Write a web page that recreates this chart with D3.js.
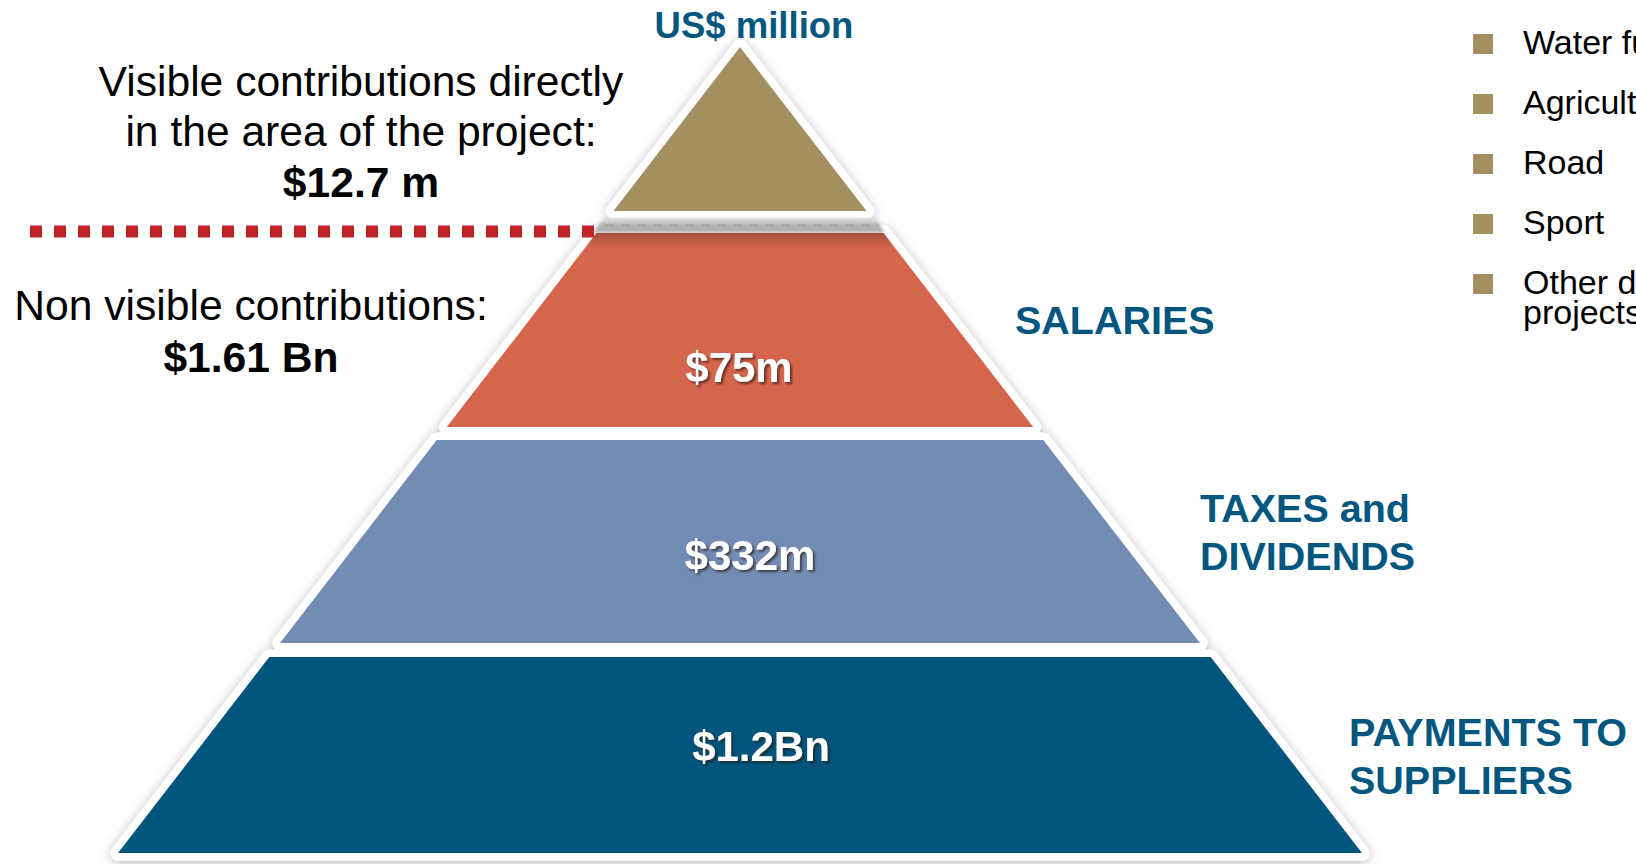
<!DOCTYPE html>
<html>
<head>
<meta charset="utf-8">
<script src="https://cdn.jsdelivr.net/npm/d3@7"></script>
<style>
  html, body { margin: 0; padding: 0; background: #fff; overflow: hidden; }
  svg { display: block; font-family: "Liberation Sans", Arial, sans-serif; }
</style>
</head>
<body>
<div class="chart"></div>
<script>
// data
const tiers = ["Visible", "SALARIES", "TAXES and DIVIDENDS", "PAYMENTS TO SUPPLIERS"]
const tierValues = ["", "$75m", "$332m", "$1.2Bn"]
const tierLabelLines = [[], ["SALARIES"], ["TAXES and", "DIVIDENDS"], ["PAYMENTS TO", "SUPPLIERS"]]
const visibleLines = ["Visible contributions directly", "in the area of the project:"]
const visibleTotal = "$12.7 m"
const nonVisibleLine = "Non visible contributions:"
const nonVisibleTotal = "$1.61 Bn"
const unitTitle = "US$ million"
const legendItems = ["Water fund", "Agriculture", "Road", "Sport", "Other development projects"]
const legendLines = [["Water fund"], ["Agriculture"], ["Road"], ["Sport"], ["Other development", "projects"]]

// layout / styles
const W = 1636, H = 864
const apex = { x: 740, y: 47 }
const baseY = 853
const baseHalf = 622
const tierFrac = [[0, 0.2035], [0.2308, 0.4715], [0.4876, 0.7395], [0.7568, 1]]
const tierColors = ["#a38f5f", "#d5654c", "#728cb4", "#00557f"]
const navyText = "#03577f"
const valuePos = [null, [739, 382], [750, 570], [761, 761]]
const labelPos = [null, [1015, 334], [1200, 522], [1349, 746]]

const svg = d3.select('.chart')
  .append('svg')
  .attr('width', W)
  .attr('height', H)

const defs = svg.append('defs')
const shadow = defs.append('filter').attr('id', 'pyrShadow')
  .attr('x', '-20%').attr('y', '-20%').attr('width', '140%').attr('height', '140%')
shadow.append('feDropShadow')
  .attr('dx', 0).attr('dy', 2).attr('stdDeviation', 6)
  .attr('flood-color', '#000').attr('flood-opacity', 0.28)

const txtShadow = defs.append('filter').attr('id', 'txtShadow')
  .attr('x', '-20%').attr('y', '-30%').attr('width', '140%').attr('height', '160%')
txtShadow.append('feDropShadow')
  .attr('dx', 2).attr('dy', 2).attr('stdDeviation', 1)
  .attr('flood-color', '#2a1a10').attr('flood-opacity', 0.7)

const blur = defs.append('filter').attr('id', 'soft')
blur.append('feGaussianBlur').attr('stdDeviation', 1.5)

const bandGrad = defs.append('linearGradient').attr('id', 'band')
  .attr('x1', 0).attr('y1', 0).attr('x2', 0).attr('y2', 1)
bandGrad.append('stop').attr('offset', '0%').attr('stop-color', '#e4e4e4')
bandGrad.append('stop').attr('offset', '60%').attr('stop-color', '#a9a9a9')
bandGrad.append('stop').attr('offset', '100%').attr('stop-color', '#bdbdbd')

const topShade = defs.append('linearGradient').attr('id', 'topShade')
  .attr('x1', 0).attr('y1', 0).attr('x2', 0).attr('y2', 1)
topShade.append('stop').attr('offset', '0%').attr('stop-color', '#000').attr('stop-opacity', 0.22)
topShade.append('stop').attr('offset', '100%').attr('stop-color', '#000').attr('stop-opacity', 0)

// scales
const y = d3.scaleLinear().domain([0, 1]).range([apex.y, baseY])
const half = d3.scaleLinear().domain([0, 1]).range([0, baseHalf])

const tierPath = (f) => {
  const [a, b] = f
  const pts = a === 0
    ? [[apex.x, y(0)], [apex.x + half(b), y(b)], [apex.x - half(b), y(b)]]
    : [[apex.x - half(a), y(a)], [apex.x + half(a), y(a)], [apex.x + half(b), y(b)], [apex.x - half(b), y(b)]]
  return d3.line()(pts) + 'Z'
}

// white outlines with shadow
svg.append('g')
  .attr('filter', 'url(#pyrShadow)')
  .selectAll('path')
  .data(tierFrac)
  .enter()
  .append('path')
  .attr('d', tierPath)
  .attr('fill', '#fff')
  .attr('stroke', '#fff')
  .attr('stroke-width', 15)
  .attr('stroke-linejoin', 'round')

// shadow band under the top triangle
const b0 = tierFrac[0][1], a1 = tierFrac[1][0]
svg.append('path')
  .attr('d', d3.line()([
    [apex.x - half(b0) - 9, y(b0) + 7],
    [apex.x + half(b0) + 9, y(b0) + 7],
    [apex.x + half(a1) + 1, y(a1)],
    [apex.x - half(a1) - 4, y(a1)]
  ]) + 'Z')
  .attr('fill', 'url(#band)')
  .attr('filter', 'url(#soft)')

svg.append('line')
  .attr('x1', apex.x - half(b0) - 8).attr('x2', apex.x + half(b0) + 12)
  .attr('y1', (y(b0) + y(a1)) / 2 + 3).attr('y2', (y(b0) + y(a1)) / 2 + 3)
  .attr('stroke', '#b29c9c').attr('stroke-width', 1.5)
  .attr('stroke-dasharray', '9 7')

// tiers
svg.append('g')
  .selectAll('path')
  .data(tierFrac)
  .enter()
  .append('path')
  .attr('d', tierPath)
  .attr('fill', (d, i) => tierColors[i])

// darker shade on top of the salaries tier
const a1b = a1 + 0.018
svg.append('path')
  .attr('d', d3.line()([
    [apex.x - half(a1), y(a1)], [apex.x + half(a1), y(a1)],
    [apex.x + half(a1b), y(a1b)], [apex.x - half(a1b), y(a1b)]
  ]) + 'Z')
  .attr('fill', 'url(#topShade)')

// value labels
svg.append('g')
  .selectAll('text')
  .data(tierValues.map((v, i) => ({ v, i })).filter((d) => d.v))
  .enter()
  .append('text')
  .attr('x', (d) => valuePos[d.i][0])
  .attr('y', (d) => valuePos[d.i][1])
  .attr('text-anchor', 'middle')
  .attr('fill', '#fff')
  .attr('font-weight', 'bold')
  .attr('font-size', 42)
  .attr('filter', 'url(#txtShadow)')
  .text((d) => d.v)

// tier labels on the right
tierLabelLines.forEach((lines, i) => {
  if (!lines.length) return
  const t = svg.append('text')
    .attr('x', labelPos[i][0])
    .attr('y', labelPos[i][1])
    .attr('fill', navyText)
    .attr('font-weight', 'bold')
    .attr('font-size', 39.5)
  lines.forEach((l, k) => {
    t.append('tspan').attr('x', labelPos[i][0]).attr('dy', k === 0 ? 0 : 48).text(l)
  })
})

// unit title
svg.append('text')
  .attr('x', 754).attr('y', 38)
  .attr('text-anchor', 'middle')
  .attr('fill', navyText)
  .attr('font-weight', 'bold')
  .attr('font-size', 36.5)
  .text(unitTitle)

// visible contributions text
const vis = svg.append('text')
  .attr('text-anchor', 'middle')
  .attr('font-size', 42.6)
  .attr('fill', '#000')
visibleLines.forEach((l, k) => {
  vis.append('tspan').attr('x', 361).attr('y', 96 + k * 50).text(l)
})
vis.append('tspan').attr('x', 361).attr('y', 197).attr('font-weight', 'bold').text(visibleTotal)

// dotted separator
svg.append('line')
  .attr('x1', 30).attr('x2', 594)
  .attr('y1', 231.5).attr('y2', 231.5)
  .attr('stroke', '#c0232a')
  .attr('stroke-width', 12)
  .attr('stroke-dasharray', '12 12')

// non visible text
svg.append('text')
  .attr('x', 251).attr('y', 320)
  .attr('text-anchor', 'middle')
  .attr('font-size', 42.6)
  .text(nonVisibleLine)
svg.append('text')
  .attr('x', 251).attr('y', 372)
  .attr('text-anchor', 'middle')
  .attr('font-size', 42.6)
  .attr('font-weight', 'bold')
  .text(nonVisibleTotal)

// legend
const ly = d3.scalePoint().domain(legendItems).range([44, 284])
const leg = svg.append('g')
  .selectAll('g')
  .data(legendItems)
  .enter()
  .append('g')
  .attr('transform', (d) => `translate(1473, ${ly(d)})`)

leg.append('rect')
  .attr('x', 0).attr('y', -10)
  .attr('width', 20).attr('height', 20)
  .attr('fill', '#a38f5f')

leg.append('text')
  .attr('font-size', 34)
  .attr('fill', '#000')
  .each(function (d, i) {
    legendLines[i].forEach((l, k) => {
      d3.select(this).append('tspan')
        .attr('x', 50).attr('y', 10 + k * 30)
        .text(l)
    })
  })
</script>
</body>
</html>
